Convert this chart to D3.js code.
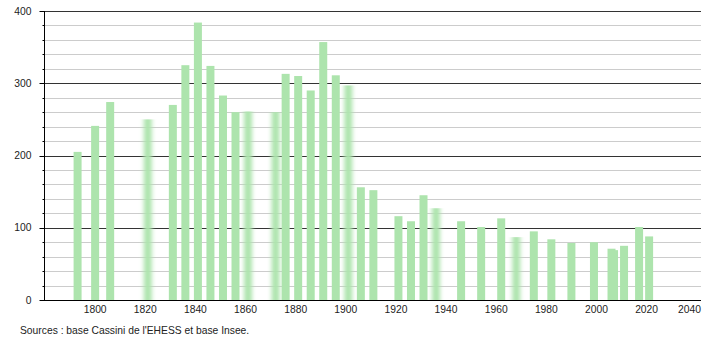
<!DOCTYPE html>
<html>
<head>
<meta charset="utf-8">
<script src="https://cdn.jsdelivr.net/npm/d3@7"></script>
<style>
  body { margin: 0; background: #fff; }
  text { font-family: "Liberation Sans", Arial, sans-serif; }
</style>
</head>
<body>
<svg id="chart" width="710" height="340"></svg>
<script>
var years = [1793, 1800, 1806, 1821, 1831, 1836, 1841, 1846, 1851, 1856, 1861, 1872, 1876, 1881, 1886, 1891, 1896, 1901,
             1906, 1911, 1921, 1926, 1931, 1936, 1946, 1954, 1962, 1968, 1975, 1982, 1990, 1999, 2006, 2007, 2011, 2017, 2021];
var population = [205, 241, 274, 250, 270, 325, 384, 324, 283, 260, 261, 260, 313, 310, 290, 357, 311, 297,
                  156, 152, 116, 109, 145, 127, 109, 101, 113, 87, 95, 84, 79, 80, 71, 69, 75, 101, 88];
// census years drawn with soft edges in the original
var softYears = [1821, 1861, 1872, 1901, 1936, 1968];
var xTicks = [1800, 1820, 1840, 1860, 1880, 1900, 1920, 1940, 1960, 1980, 2000, 2020, 2040];
var yTicks = [0, 100, 200, 300, 400];
var source = "Sources : base Cassini de l'EHESS et base Insee.";

var svg = d3.select("#chart");

var x = d3.scaleLinear().domain([1780, 2041.7]).range([45, 701]);
var y = d3.scaleLinear().domain([0, 400]).range([300, 11]);

var data = years.map(function(d, i) {
  return {year: d, pop: population[i], soft: softYears.indexOf(d) >= 0};
});

var defs = svg.append("defs");
defs.append("filter")
    .attr("id", "soft")
    .attr("x", "-60%").attr("width", "220%")
    .append("feGaussianBlur")
    .attr("stdDeviation", "2 0");

// grid lines every 20
var grid = d3.range(20, 401, 20);
svg.append("g").selectAll("line")
    .data(grid)
  .enter().append("line")
    .attr("x1", 44)
    .attr("x2", 701)
    .attr("y1", function(d) { return Math.round(y(d)) + 0.5; })
    .attr("y2", function(d) { return Math.round(y(d)) + 0.5; })
    .attr("stroke", function(d) { return d % 100 == 0 ? "#333" : "#cccccc"; })
    .attr("stroke-width", 1);

// bars
svg.append("g").selectAll("rect")
    .data(data)
  .enter().append("rect")
    .attr("x", function(d) { return x(d.year) - 4; })
    .attr("width", 8)
    .attr("y", function(d) { return y(d.pop); })
    .attr("height", function(d) { return y(0) - y(d.pop); })
    .attr("fill", "#ade4ad")
    .attr("filter", function(d) { return d.soft ? "url(#soft)" : null; });

// left axis
var yAxis = svg.append("g").attr("transform", "translate(44.5,0)");
yAxis.append("line")
    .attr("y1", y(400)).attr("y2", y(0))
    .attr("stroke", "#000");
yAxis.selectAll(".minor")
    .data(d3.range(0, 401, 20))
  .enter().append("line")
    .attr("x1", function(d) { return d % 100 == 0 ? -5 : -2; })
    .attr("x2", 0)
    .attr("y1", function(d) { return Math.round(y(d)) + 0.5; })
    .attr("y2", function(d) { return Math.round(y(d)) + 0.5; })
    .attr("stroke", "#000");
yAxis.selectAll("text")
    .data(yTicks)
  .enter().append("text")
    .attr("x", -13)
    .attr("y", function(d) { return y(d); })
    .attr("dy", "0.35em")
    .attr("text-anchor", "end")
    .attr("font-size", 10.3)
    .attr("fill", "#222")
    .text(function(d) { return d; });

// bottom axis
svg.append("line")
    .attr("x1", 44).attr("x2", 701)
    .attr("y1", 300.5).attr("y2", 300.5)
    .attr("stroke", "#000");
svg.append("g").selectAll("text")
    .data(xTicks)
  .enter().append("text")
    .attr("x", function(d) { return d == 2040 ? 701 : x(d); })
    .attr("y", 312.5)
    .attr("text-anchor", function(d) { return d == 2040 ? "end" : "middle"; })
    .attr("font-size", 10.3)
    .attr("fill", "#222")
    .text(function(d) { return d; });

svg.append("text")
    .attr("x", 20)
    .attr("y", 333.5)
    .attr("font-size", 10.3)
    .attr("fill", "#222")
    .text(source);
</script>
</body>
</html>
